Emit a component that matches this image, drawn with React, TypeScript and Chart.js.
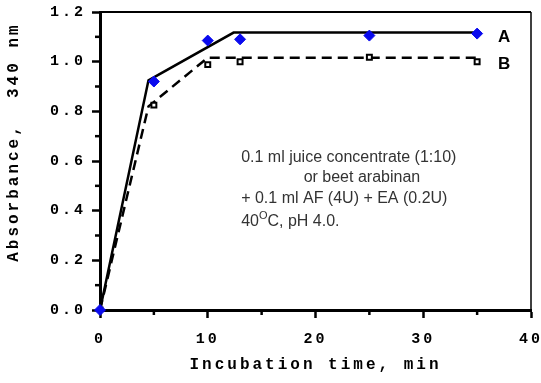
import React, { useEffect, useRef } from 'react';
import { Chart, registerables } from 'chart.js';
Chart.register(...registerables);

const timeMeasured = [0, 5, 10, 13, 25, 35];
const absorbanceA = [0, 0.92, 1.085, 1.09, 1.105, 1.113];
const absorbanceB = [0, 0.825, 0.988, 1.0, 1.018, 1.0];
const fitTimeA = [0, 4.5, 12.4, 35];
const fitA = [0, 0.925, 1.117, 1.117];
const fitTimeB = [0, 4.5, 10, 35];
const fitB = [0, 0.82, 1.016, 1.016];
const xMinorTicks = [5, 15, 25, 35];
const yMinorTicks = [0.1, 0.3, 0.5, 0.7, 0.9, 1.1];
const seriesLabels = ['A', 'B'];
const noteLines = [
  '0.1 ml juice concentrate (1:10)',
  'or beet arabinan',
  '+ 0.1 ml AF (4U) + EA (0.2U)',
];
const noteTemp = ['40', 'O', 'C, pH 4.0.'];

const MONO = '"Liberation Mono", "Courier New", monospace';
const SANS = '"Liberation Sans", Arial, sans-serif';

const pts = (xs: number[], ys: number[]) => xs.map((x, i) => ({ x, y: ys[i] }));

export default function App() {
  const ref = useRef<HTMLCanvasElement>(null);
  useEffect(() => {
    document.body.style.margin = '0';
    const canvas = ref.current!;
    const decor = {
      id: 'decor',
      beforeDraw(chart: any) {
        chart.ctx.letterSpacing = '3px';
      },
      beforeDatasetsDraw(chart: any) {
        chart.ctx.letterSpacing = '0px';
      },
      afterDraw(chart: any) {
        const { ctx, chartArea: ca, scales } = chart;
        const xs = scales.x, ys = scales.y;
        ctx.save();
        ctx.letterSpacing = '0px';
        ctx.strokeStyle = '#000';
        // top and right frame
        ctx.lineWidth = 2;
        ctx.beginPath();
        ctx.moveTo(ca.left, ca.top);
        ctx.lineTo(ca.right, ca.top);
        ctx.stroke();
        ctx.lineWidth = 1.5;
        ctx.beginPath();
        ctx.moveTo(ca.right, ca.top);
        ctx.lineTo(ca.right, ca.bottom);
        ctx.stroke();
        // minor ticks
        ctx.lineWidth = 2.5;
        yMinorTicks.forEach((v) => {
          const y = ys.getPixelForValue(v);
          ctx.beginPath();
          ctx.moveTo(ca.left - 5, y);
          ctx.lineTo(ca.left, y);
          ctx.stroke();
        });
        xMinorTicks.forEach((v) => {
          const x = xs.getPixelForValue(v);
          ctx.beginPath();
          ctx.moveTo(x, ca.bottom);
          ctx.lineTo(x, ca.bottom + 5);
          ctx.stroke();
        });
        // series labels
        ctx.fillStyle = '#000';
        ctx.font = 'bold 17px ' + SANS;
        ctx.textAlign = 'center';
        ctx.textBaseline = 'middle';
        ctx.fillText(seriesLabels[0], xs.getPixelForValue(37.5), ys.getPixelForValue(1.097));
        ctx.fillText(seriesLabels[1], xs.getPixelForValue(37.5), ys.getPixelForValue(0.99));
        // note
        ctx.fillStyle = '#333';
        ctx.font = '16px ' + SANS;
        ctx.textAlign = 'left';
        const x0 = xs.getPixelForValue(13.1);
        ctx.fillText(noteLines[0], x0, ys.getPixelForValue(0.613));
        ctx.fillText(noteLines[1], xs.getPixelForValue(18.9), ys.getPixelForValue(0.532));
        ctx.fillText(noteLines[2], x0, ys.getPixelForValue(0.448));
        const y4 = ys.getPixelForValue(0.355);
        ctx.fillText(noteTemp[0], x0, y4);
        let xx = x0 + ctx.measureText(noteTemp[0]).width;
        ctx.font = '11px ' + SANS;
        ctx.fillText(noteTemp[1], xx, y4 - 6);
        xx += ctx.measureText(noteTemp[1]).width;
        ctx.font = '16px ' + SANS;
        ctx.fillText(noteTemp[2], xx, y4);
        ctx.restore();
      },
    };
    const chart = new Chart(canvas, {
      type: 'scatter',
      data: {
        datasets: [
          {
            label: 'A',
            data: pts(timeMeasured, absorbanceA),
            pointStyle: 'rectRot',
            pointRadius: 5.5,
            backgroundColor: '#0a0aee',
            borderColor: '#0a0aee',
            borderWidth: 1,
            showLine: false,
            clip: false,
          },
          {
            label: 'B',
            data: pts(timeMeasured, absorbanceB),
            pointStyle: 'rect',
            pointRadius: 3.5,
            backgroundColor: '#fff',
            borderColor: '#000',
            borderWidth: 2,
            showLine: false,
          },
          {
            label: 'fitA',
            data: pts(fitTimeA, fitA),
            showLine: true,
            borderColor: '#000',
            borderWidth: 2.5,
            pointRadius: 0,
            tension: 0,
          },
          {
            label: 'fitB',
            data: pts(fitTimeB, fitB),
            showLine: true,
            borderColor: '#000',
            borderWidth: 2.5,
            borderDash: [10, 6],
            pointRadius: 0,
            tension: 0,
          },
        ],
      },
      options: {
        animation: false,
        responsive: false,
        devicePixelRatio: 1,
        layout: { padding: { left: 0, right: 10, top: 12, bottom: 0 } },
        plugins: { legend: { display: false }, tooltip: { enabled: false } },
        scales: {
          x: {
            type: 'linear',
            min: 0,
            max: 40,
            afterFit: (s: any) => { s.height = 73; s.paddingLeft = 0; s.paddingRight = 0; },
            ticks: {
              stepSize: 10,
              color: '#000',
              font: { family: MONO, size: 15, weight: 'bold' },
              padding: 12,
              maxRotation: 0,
            },
            grid: {
              drawOnChartArea: false,
              drawTicks: true,
              tickLength: 8,
              tickWidth: 2.5,
              tickColor: '#000',
              color: '#000',
            },
            border: { display: true, color: '#000', width: 3 },
            title: {
              display: true,
              text: 'Incubation time, min',
              color: '#000',
              font: { family: MONO, size: 16, weight: 'bold' },
              padding: { top: 0, bottom: 8 },
            },
          },
          y: {
            type: 'linear',
            min: 0,
            max: 1.2,
            afterFit: (s: any) => { s.width = 100; s.paddingTop = 0; s.paddingBottom = 0; },
            ticks: {
              stepSize: 0.2,
              color: '#000',
              font: { family: MONO, size: 15, weight: 'bold' },
              padding: 6,
              callback: (v: any) => Number(v).toFixed(1),
            },
            grid: {
              drawOnChartArea: false,
              drawTicks: true,
              tickLength: 8,
              tickWidth: 2.5,
              tickColor: '#000',
              color: '#000',
            },
            border: { display: true, color: '#000', width: 3 },
            title: {
              display: true,
              text: '   Absorbance,  340 nm',
              color: '#000',
              font: { family: MONO, size: 16, weight: 'bold' },
              padding: { top: 4, bottom: 0 },
            },
          },
        },
      },
      plugins: [decor],
    });
    return () => chart.destroy();
  }, []);
  return <canvas ref={ref} width={541} height={383} style={{ display: 'block' }} />;
}
